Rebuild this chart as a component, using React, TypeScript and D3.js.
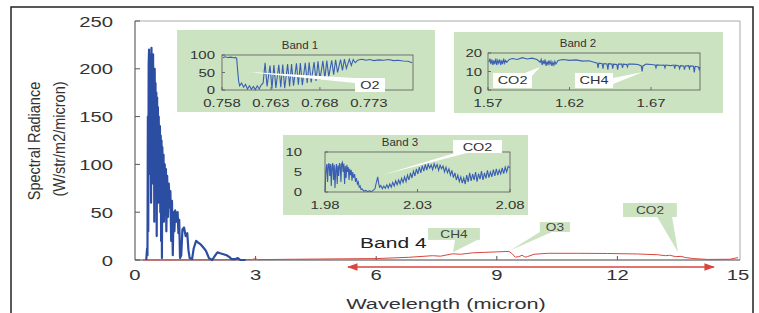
import React from "react";
import * as d3 from "d3";

type Pt = [number, number];

// main chart ticks
const mainXTicks = [0, 3, 6, 9, 12, 15];
const mainYTicks = [0, 50, 100, 150, 200, 250];

// solar reflected spectrum (blue) - wavelength (micron), radiance
const solarSpectrum: Pt[] = [
  [0.28, 0], [0.3, 12], [0.31, 5], [0.32, 150], [0.33, 30], [0.34, 205], [0.35, 220], [0.36, 120],
  [0.37, 215], [0.38, 90], [0.39, 200], [0.4, 60], [0.41, 222], [0.42, 110], [0.43, 205], [0.44, 80],
  [0.45, 215], [0.46, 130], [0.47, 190], [0.48, 40], [0.49, 200], [0.5, 105], [0.51, 185], [0.52, 70],
  [0.53, 175], [0.54, 25], [0.55, 170], [0.56, 95], [0.57, 160], [0.58, 60], [0.59, 150], [0.6, 110],
  [0.62, 140], [0.63, 50], [0.64, 130], [0.65, 20], [0.66, 125], [0.67, 2], [0.68, 118], [0.7, 60],
  [0.71, 110], [0.72, 40], [0.74, 100], [0.75, 75], [0.77, 95], [0.78, 30], [0.8, 88], [0.82, 45],
  [0.84, 80], [0.86, 55], [0.88, 72], [0.9, 20], [0.92, 62], [0.94, 5], [0.96, 50], [0.98, 30],
  [1.0, 52], [1.03, 40], [1.06, 50], [1.08, 28], [1.1, 42], [1.12, 2], [1.15, 5], [1.18, 32],
  [1.22, 34], [1.26, 25], [1.3, 28], [1.33, 10], [1.36, 2], [1.42, 1], [1.46, 12], [1.52, 20],
  [1.58, 18], [1.64, 16], [1.7, 13], [1.76, 10], [1.8, 6], [1.84, 2], [1.92, 0], [2.0, 5],
  [2.05, 8], [2.12, 7], [2.2, 6], [2.28, 5], [2.35, 3], [2.4, 1], [2.5, 1], [2.56, 2], [2.62, 0], [2.75, 0],
];

// thermal emission spectrum (red)
const thermalSpectrum: Pt[] = [
  [0.2, 0], [2.9, 0.4], [3.0, 1.5], [3.05, 0.4], [4.0, 0.8], [5.1, 1.2], [6.0, 1.5], [6.8, 2.8],
  [7.4, 4.5], [7.6, 4], [7.9, 6.5], [8.1, 6], [8.4, 7.5], [8.7, 8], [9.0, 8.5], [9.3, 9],
  [9.37, 7], [9.46, 3], [9.55, 3.5], [9.63, 5], [9.7, 3], [9.76, 3.5], [9.93, 6], [10.26, 7],
  [11.0, 7], [11.75, 6.8], [12.5, 6.3], [13.0, 5.5], [13.2, 4.5], [13.3, 5], [13.45, 3.5], [13.58, 3.8],
  [13.7, 2.5], [13.9, 1.5], [14.24, 0.6], [14.8, 0.8], [15.0, 2.5],
];

const band1Spectrum: Pt[] = [
  [0.7581, 92], [0.7583, 95], [0.7586, 93], [0.7589, 94], [0.7592, 92], [0.7594, 93], [0.7595, 90], [0.7596, 55],
  [0.7597, 25], [0.7598, 12], [0.76, 20], [0.7602, 8], [0.7604, 16], [0.7606, 3], [0.7608, 12], [0.761, 2],
  [0.7612, 10], [0.7614, 1], [0.7616, 12], [0.7618, 3], [0.762, 14], [0.7622, 20], [0.7623, 50],
  [0.7624, 78], [0.7626, 10], [0.7629, 70], [0.7631, 4], [0.7633, 71], [0.7635, 6], [0.7638, 72], [0.764, 8],
  [0.7642, 73], [0.7644, 5], [0.7647, 74], [0.7649, 10], [0.7651, 74], [0.7653, 12], [0.7656, 76], [0.7658, 15],
  [0.766, 77], [0.7662, 14], [0.7665, 78], [0.7667, 20], [0.7669, 79], [0.7671, 22], [0.7674, 80], [0.7676, 26],
  [0.7678, 82], [0.768, 30], [0.7683, 83], [0.7685, 34], [0.7687, 84], [0.7689, 38], [0.7692, 85], [0.7694, 44],
  [0.7696, 86], [0.7698, 50], [0.7701, 87], [0.7703, 56], [0.7705, 88], [0.7707, 62], [0.771, 88], [0.7712, 70],
  [0.7714, 87], [0.7716, 78], [0.7719, 86], [0.7723, 88], [0.7727, 85], [0.7731, 87], [0.7735, 84], [0.774, 86],
  [0.7745, 85], [0.775, 87], [0.7755, 84], [0.776, 85], [0.7765, 83], [0.777, 82], [0.7774, 78],
];

const band2Spectrum: Pt[] = [
  [1.5705, 15], [1.5712, 17], [1.5718, 14], [1.5724, 16.5], [1.573, 13.5], [1.5736, 16], [1.5742, 14], [1.5748, 17],
  [1.5754, 13.5], [1.576, 16], [1.5766, 14.5], [1.5772, 16.5], [1.5778, 13.5], [1.5784, 16], [1.579, 14], [1.5796, 17],
  [1.5802, 14.5], [1.5808, 16], [1.5815, 15], [1.583, 16.5], [1.585, 17], [1.588, 16.5], [1.591, 17.5], [1.594, 16.8],
  [1.597, 17.2], [1.6, 16.5], [1.602, 15], [1.6026, 16.5], [1.6032, 13.5], [1.6038, 16], [1.6044, 14], [1.605, 16.5],
  [1.6056, 13], [1.6062, 15.5], [1.6068, 13.5], [1.6074, 16], [1.608, 14], [1.6086, 15.5], [1.6092, 13], [1.6098, 15],
  [1.6104, 13.5], [1.611, 15.5], [1.6116, 14], [1.613, 16], [1.616, 16.5], [1.62, 16], [1.624, 16.3], [1.628, 15.6],
  [1.632, 15.8], [1.635, 15], [1.637, 14.5], [1.6375, 12], [1.638, 14.5], [1.64, 14.2], [1.6405, 11.5], [1.641, 14.3],
  [1.643, 14], [1.6435, 11], [1.644, 14.2], [1.646, 14], [1.6465, 11.5], [1.647, 14], [1.649, 13.8], [1.6495, 11],
  [1.65, 14], [1.652, 14], [1.6525, 12], [1.653, 14], [1.655, 13.8], [1.6555, 12.5], [1.656, 14], [1.659, 14],
  [1.662, 13.8], [1.664, 13], [1.6645, 10], [1.665, 13], [1.667, 14], [1.67, 13.8], [1.6725, 13.5], [1.673, 12],
  [1.6735, 13.6], [1.676, 13.4], [1.678, 13.5], [1.6785, 12], [1.679, 13.5], [1.682, 13.2], [1.684, 13.5], [1.6845, 11.5],
  [1.685, 13.4], [1.687, 13], [1.6875, 11.5], [1.688, 13.2], [1.69, 13], [1.6905, 11], [1.691, 13], [1.693, 13.2],
  [1.6935, 11.5], [1.694, 13], [1.696, 12.8], [1.6965, 9.5], [1.697, 12.8], [1.699, 12.5], [1.6995, 11], [1.7, 12.5],
];

const band3Spectrum: Pt[] = [
  [1.9801, 0.5], [1.9805, 5.5], [1.981, 7], [1.9814, 2.5], [1.9818, 6.8], [1.9822, 7.2], [1.9826, 4], [1.983, 7],
  [1.9834, 1.5], [1.9838, 6.5], [1.9842, 7.2], [1.9846, 3], [1.985, 6.8], [1.9854, 1], [1.9858, 5.5], [1.9862, 7],
  [1.9866, 2], [1.987, 6.6], [1.9874, 4], [1.9878, 7.2], [1.9882, 6.8], [1.9886, 2.5], [1.989, 7], [1.9894, 7.4],
  [1.9898, 5], [1.9902, 7.1], [1.9906, 2], [1.991, 6.5], [1.9914, 3.5], [1.9918, 6.8], [1.9922, 5], [1.9926, 6.2],
  [1.993, 3], [1.9934, 5.8], [1.9938, 4.2], [1.9942, 5.5], [1.9946, 2.8], [1.995, 5], [1.9955, 3.5], [1.996, 4.5],
  [1.9965, 2.5], [1.997, 3.5], [1.9975, 2], [1.998, 2.5], [1.9985, 1.2], [1.999, 1.5], [1.9995, 0.6], [2.0, 0.8],
  [2.001, 0.2], [2.002, 0.4], [2.003, 0.1], [2.004, 0.3], [2.005, 0.1], [2.006, 0.4], [2.007, 0.8], [2.0078, 2.5],
  [2.0085, 3.8], [2.009, 2.2], [2.0095, 1.2], [2.0102, 1.6], [2.011, 0.8], [2.0118, 1.5], [2.0126, 0.9], [2.0134, 1.8],
  [2.0142, 1], [2.015, 2], [2.0158, 1.2], [2.0166, 2.4], [2.0174, 1.5], [2.0182, 2.8], [2.019, 1.8], [2.0198, 3],
  [2.0206, 2], [2.0214, 3.4], [2.0222, 2.4], [2.023, 3.8], [2.0238, 2.6], [2.0246, 4.2], [2.0254, 3], [2.0262, 4.8],
  [2.027, 3.5], [2.0278, 5.2], [2.0286, 4], [2.0294, 5.8], [2.0302, 4.5], [2.031, 6.2], [2.0318, 4.8], [2.0326, 6.6],
  [2.0334, 5.2], [2.0342, 6.9], [2.035, 5.5], [2.0358, 7], [2.0366, 6], [2.0374, 6.8], [2.0382, 5.6], [2.039, 7.1],
  [2.0398, 6], [2.0406, 6.9], [2.0414, 5.4], [2.0422, 6.7], [2.043, 5.8], [2.0438, 6.5], [2.0446, 5], [2.0454, 6.2],
  [2.0462, 4.8], [2.047, 5.8], [2.0478, 4.2], [2.0486, 5.4], [2.0494, 3.6], [2.0502, 4.8], [2.051, 3], [2.0518, 4.2],
  [2.0526, 2.6], [2.0534, 3.8], [2.0542, 2.2], [2.055, 3.5], [2.0558, 2], [2.0566, 4.2], [2.0574, 2.5], [2.0582, 4.8],
  [2.059, 2.8], [2.0598, 4.5], [2.0606, 3], [2.0614, 5], [2.0622, 2.6], [2.063, 4.6], [2.0638, 3.2], [2.0646, 5.2],
  [2.0654, 3], [2.0662, 4.8], [2.067, 3.4], [2.0678, 5.4], [2.0686, 3.6], [2.0694, 5], [2.0702, 3.8], [2.071, 5.6],
  [2.0718, 4], [2.0726, 5.8], [2.0734, 4.2], [2.0742, 5.5], [2.075, 4.5], [2.0758, 6], [2.0766, 4.6], [2.0774, 6.2],
  [2.0782, 5], [2.079, 6.4], [2.0798, 6],
];

// Band 4 arrow range (micron) and gas callouts on the main chart
const band4Range: Pt = [5.3, 14.4];
const mainCallouts = [
  { text: "CH4", box: [7.29, 8.58, 33.5, 21], base: [7.96, 8.51], tip: [7.91, 8] as Pt },
  { text: "O3", box: [10.07, 10.82, 39.7, 29.3], base: [10.07, 10.37], tip: [9.33, 10] as Pt },
  { text: "CO2", box: [12.14, 13.48, 59.6, 45], base: [12.99, 13.36], tip: [13.51, 8] as Pt },
];

const W = 759;
const H = 313;
const BLUE = "#2b4ea3";
const INSET_BLUE = "#3a5fb2";
const RED = "#d9463e";
const GREEN = "#cce3c1";
const FONT = "Liberation Sans, Arial, sans-serif";

function Txt({ x, y, size, sx = 1, anchor = "middle", fill = "#333", rotate, children }: any) {
  const t = `translate(${x},${y}) scale(${sx},1)` + (rotate ? ` rotate(${rotate})` : "");
  return (
    <text transform={t} fontSize={size} textAnchor={anchor} fill={fill} fontFamily={FONT}>
      {children}
    </text>
  );
}

type Callout = { text: string; box: number[]; wedge: Pt[] };

function Inset({ panel, plot, xDomain, yDomain, xTicks, yTicks, xFmt, data, title, titleX, labelRight, callouts }: any) {
  const x = d3.scaleLinear().domain(xDomain).range([plot[0], plot[1]]);
  const y = d3.scaleLinear().domain(yDomain).range([plot[3], plot[2]]);
  const line = d3.line<Pt>().x((d) => x(d[0])).y((d) => y(d[1]));
  return (
    <g>
      <rect x={panel[0]} y={panel[1]} width={panel[2]} height={panel[3]} fill={GREEN} />
      <rect x={plot[0]} y={plot[2]} width={plot[1] - plot[0]} height={plot[3] - plot[2]} fill="none" stroke="#555" strokeWidth={0.8} />
      {yTicks.map((t: number) => (
        <g key={"y" + t}>
          <line x1={plot[0]} x2={plot[0] + 3} y1={y(t)} y2={y(t)} stroke="#555" strokeWidth={0.8} />
          <Txt x={labelRight} y={y(t) + 4} size={11.5} sx={1.3} anchor="end">{t}</Txt>
        </g>
      ))}
      {xTicks.map((t: number) => (
        <g key={"x" + t}>
          <line x1={x(t)} x2={x(t)} y1={plot[3]} y2={plot[3] - 3} stroke="#555" strokeWidth={0.8} />
          <Txt x={x(t)} y={plot[3] + 17} size={11.5} sx={1.3}>{xFmt(t)}</Txt>
        </g>
      ))}
      <path d={line(data) || ""} fill="none" stroke={INSET_BLUE} strokeWidth={1.1} />
      <Txt x={titleX} y={plot[2] - 6} size={11.5}>{title}</Txt>
      {callouts.map((c: Callout) => {
        const bx0 = x(c.box[0]);
        const bx1 = x(c.box[1]);
        const by0 = y(c.box[2]);
        const by1 = y(c.box[3]);
        return (
          <g key={c.text}>
            <polygon points={c.wedge.map((p) => `${x(p[0])},${y(p[1])}`).join(" ")} fill="#fff" />
            <rect x={bx0} y={by0} width={bx1 - bx0} height={by1 - by0} fill="#fff" />
            <Txt x={(bx0 + bx1) / 2} y={(by0 + by1) / 2 + 4} size={10} sx={1.45}>{c.text}</Txt>
          </g>
        );
      })}
    </g>
  );
}

export default function App() {
  const x = d3.scaleLinear().domain([0, 15]).range([135, 738]);
  const y = d3.scaleLinear().domain([0, 250]).range([260, 21]);
  const line = d3.line<Pt>().x((d) => x(d[0])).y((d) => y(d[1]));
  const arrowY = y(0) + 7;

  return (
    <svg width={W} height={H} style={{ position: "absolute", left: 0, top: 0, background: "#fff" }}>
      <defs>
        <marker id="ah" viewBox="0 0 10 10" refX="9" refY="5" markerWidth="7" markerHeight="7" orient="auto-start-reverse">
          <path d="M0,1.5 L10,5 L0,8.5 z" fill={RED} />
        </marker>
      </defs>
      <rect x={11} y={7} width={742} height={320} fill="#fff" stroke="#222" strokeWidth={1.5} />

      {/* plot frame */}
      <line x1={x(0)} x2={x(15) + 2} y1={y(250)} y2={y(250)} stroke="#aaa" />
      <line x1={x(15) + 2} x2={x(15) + 2} y1={y(250)} y2={y(0)} stroke="#aaa" />
      <line x1={x(0)} x2={x(0)} y1={y(250)} y2={y(0)} stroke="#444" />
      <line x1={x(0)} x2={x(15) + 2} y1={y(0)} y2={y(0)} stroke="#444" />

      {mainYTicks.map((t) => (
        <g key={"my" + t}>
          <line x1={x(0)} x2={x(0) + 5} y1={y(t)} y2={y(t)} stroke="#555" />
          <Txt x={113} y={y(t) + 5.5} size={15} sx={1.35} anchor="end">{t}</Txt>
        </g>
      ))}
      {mainXTicks.map((t) => (
        <g key={"mx" + t}>
          {t > 0 && t < 15 && <line x1={x(t)} x2={x(t)} y1={y(0)} y2={y(0) - 4} stroke="#555" />}
          <Txt x={x(t)} y={280} size={15} sx={1.35}>{t}</Txt>
        </g>
      ))}
      <Txt x={446} y={309} size={15} sx={1.45}>Wavelength (micron)</Txt>
      <Txt x={40} y={141} size={14.5} sx={1.1} rotate={-90}>Spectral Radiance</Txt>
      <Txt x={65} y={139} size={14.5} sx={1.1} rotate={-90}>(W/str/m2/micron)</Txt>

      {/* spectra */}
      <path d={line(thermalSpectrum) || ""} fill="none" stroke={RED} strokeWidth={1} />
      <path d={line(solarSpectrum) || ""} fill="none" stroke={BLUE} strokeWidth={2.2} strokeLinejoin="round" />

      {/* band 4 */}
      <Txt x={x(5.6)} y={y(12.5)} size={15} sx={1.4} anchor="start" fill="#222">Band 4</Txt>
      <line x1={x(band4Range[0])} x2={x(band4Range[1])} y1={arrowY} y2={arrowY} stroke={RED} strokeWidth={1.5}
        markerStart="url(#ah)" markerEnd="url(#ah)" />
      {mainCallouts.map((c) => {
        const bx0 = x(c.box[0]);
        const bx1 = x(c.box[1]);
        const by0 = y(c.box[2]);
        const by1 = y(c.box[3]);
        return (
          <g key={c.text}>
            <polygon points={`${x(c.base[0])},${by1} ${x(c.base[1])},${by1} ${x(c.tip[0])},${y(c.tip[1])}`} fill={GREEN} />
            <rect x={bx0} y={by0} width={bx1 - bx0} height={by1 - by0} fill={GREEN} />
            <Txt x={(bx0 + bx1) / 2} y={(by0 + by1) / 2 + 4} size={10.5} sx={1.3} fill="#444">{c.text}</Txt>
          </g>
        );
      })}

      <Inset
        panel={[177, 30, 258, 82]}
        plot={[222, 413, 55, 90]}
        xDomain={[0.758, 0.7775]}
        yDomain={[0, 100]}
        xTicks={[0.758, 0.763, 0.768, 0.773]}
        yTicks={[0, 50, 100]}
        xFmt={(v: number) => v.toFixed(3)}
        data={band1Spectrum}
        title="Band 1"
        titleX={300}
        labelRight={215}
        callouts={[{ text: "O2", box: [0.77158, 0.77464, 34.3, -5.7], wedge: [[0.76065, 51.4], [0.77158, 34], [0.77158, 20]] }]}
      />
      <Inset
        panel={[454, 32, 269, 81]}
        plot={[488, 700, 53, 90]}
        xDomain={[1.57, 1.7]}
        yDomain={[0, 20]}
        xTicks={[1.57, 1.62, 1.67]}
        yTicks={[0, 10, 20]}
        xFmt={(v: number) => v.toFixed(2)}
        data={band2Spectrum}
        title="Band 2"
        titleX={578}
        labelRight={482}
        callouts={[
          { text: "CO2", box: [1.5731, 1.597, 9.2, 1.1], wedge: [[1.6019, 12.4], [1.5927, 9.2], [1.597, 7.6]] },
          { text: "CH4", box: [1.6233, 1.6467, 9.2, 1.1], wedge: [[1.665, 9.7], [1.6467, 6.5], [1.6467, 3.2]] },
        ]}
      />
      <Inset
        panel={[283, 135, 245, 80]}
        plot={[325, 510, 152, 192]}
        xDomain={[1.98, 2.08]}
        yDomain={[0, 10]}
        xTicks={[1.98, 2.03, 2.08]}
        yTicks={[0, 5, 10]}
        xFmt={(v: number) => v.toFixed(2)}
        data={band3Spectrum}
        title="Band 3"
        titleX={400}
        labelRight={302}
        callouts={[{ text: "CO2", box: [2.0492, 2.0757, 13, 9.75], wedge: [[2.0108, 4.25], [2.0503, 9.75], [2.0568, 9.75]] }]}
      />
    </svg>
  );
}
